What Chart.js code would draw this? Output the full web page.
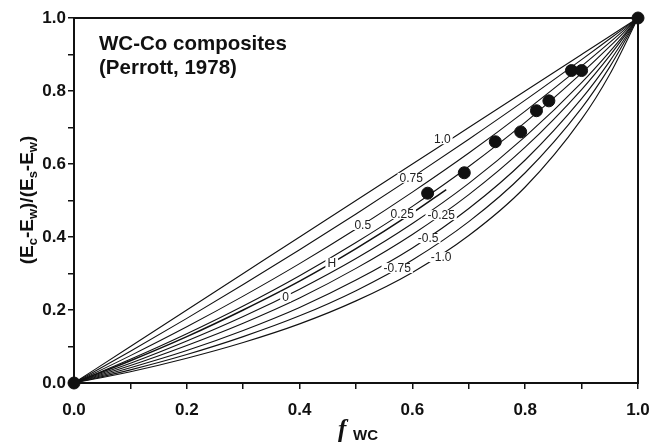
<!DOCTYPE html>
<html>
<head>
<meta charset="utf-8">
<script src="https://cdn.jsdelivr.net/npm/chart.js@4"></script>
<style>
  html, body { margin: 0; padding: 0; background: #fff; }
  #wrap { width: 662px; height: 445px; }
</style>
</head>
<body>
<div id="wrap"><canvas id="perrott"></canvas></div>
<script>
// shared x grid for the model curves (f_WC)
var xs = [0, 0.1, 0.2, 0.3, 0.4, 0.5, 0.6, 0.7, 0.8, 0.9, 0.95, 1];

// curves, one per parameter value
var c100  = [0, 0.100, 0.200, 0.300, 0.400, 0.500, 0.600, 0.700, 0.800, 0.900, 0.950, 1];
var c075  = [0, 0.087, 0.177, 0.270, 0.365, 0.463, 0.564, 0.668, 0.775, 0.886, 0.943, 1];
var c050  = [0, 0.075, 0.154, 0.238, 0.327, 0.422, 0.523, 0.630, 0.745, 0.868, 0.933, 1];
var c025  = [0, 0.065, 0.135, 0.211, 0.294, 0.385, 0.484, 0.593, 0.714, 0.849, 0.922, 1];
var c000  = [0, 0.054, 0.115, 0.182, 0.257, 0.341, 0.437, 0.547, 0.675, 0.823, 0.908, 1];
var cm025 = [0, 0.048, 0.103, 0.164, 0.233, 0.314, 0.407, 0.516, 0.646, 0.804, 0.897, 1];
var cm050 = [0, 0.042, 0.089, 0.144, 0.207, 0.282, 0.370, 0.478, 0.611, 0.779, 0.882, 1];
var cm075 = [0, 0.036, 0.078, 0.127, 0.184, 0.253, 0.337, 0.442, 0.576, 0.753, 0.866, 1];
var cm100 = [0, 0.031, 0.068, 0.111, 0.162, 0.225, 0.303, 0.404, 0.537, 0.723, 0.846, 1];

// H curve (stops short)
var hX = [0, 0.1, 0.2, 0.3, 0.4, 0.5, 0.6, 0.66];
var hY = [0, 0.061, 0.127, 0.200, 0.279, 0.368, 0.466, 0.530];

// WC-Co measurements
var wcX = [0, 0.627, 0.692, 0.747, 0.792, 0.820, 0.842, 0.882, 0.900, 1];
var wcY = [0, 0.520, 0.576, 0.661, 0.688, 0.746, 0.773, 0.856, 0.856, 1];

// in-line curve labels (anchor in data units)
var curveLabels = ['1.0', '0.75', '0.5', '0.25', 'H', '0', '-0.25', '-0.5', '-0.75', '-1.0'];
var labelX = [0.653, 0.598, 0.512, 0.582, 0.457, 0.375, 0.651, 0.628, 0.573, 0.651];
var labelY = [0.668, 0.562, 0.433, 0.463, 0.329, 0.236, 0.460, 0.397, 0.315, 0.345];

var tickLabels = ['0.0', '0.2', '0.4', '0.6', '0.8', '1.0'];

function pts(xa, ya) {
	return xa.map(function(x, i) { return {x: x, y: ya[i]}; });
}

function curve(ya, xa, w) {
	return {
		data: pts(xa || xs, ya),
		borderColor: '#111',
		borderWidth: w || 1.1,
		pointRadius: 0,
		fill: false,
		cubicInterpolationMode: 'monotone'
	};
}

function tickText(v) {
	var k = Math.round(v * 10);
	return k % 2 === 0 ? tickLabels[k / 2] : '';
}

var framePlugin = {
	id: 'frame',
	beforeDatasetsDraw: function(chart) {
		var a = chart.chartArea, ctx = chart.ctx;
		ctx.save();
		ctx.strokeStyle = '#111';
		ctx.lineWidth = 2;
		ctx.strokeRect(a.left, a.top, a.right - a.left, a.bottom - a.top);
		ctx.restore();
	},
	afterDatasetDraw: function(chart, args) {
		// labels go on top of the curves but under the dots
		if (args.index !== 1) return;
		var ctx = chart.ctx, sx = chart.scales.x, sy = chart.scales.y;
		ctx.save();
		ctx.font = '12px "Liberation Sans", Arial, sans-serif';
		ctx.textAlign = 'center';
		ctx.textBaseline = 'middle';
		for (var i = 0; i < curveLabels.length; i++) {
			var px = sx.getPixelForValue(labelX[i]);
			var py = sy.getPixelForValue(labelY[i]);
			var w = ctx.measureText(curveLabels[i]).width + 4;
			ctx.fillStyle = '#fff';
			ctx.fillRect(px - w / 2, py - 5, w, 10);
			ctx.fillStyle = '#222';
			ctx.fillText(curveLabels[i], px, py + 1);
		}
		ctx.restore();
	},
	afterDraw: function(chart) {
		var ctx = chart.ctx;
		ctx.save();
		ctx.fillStyle = '#111';
		ctx.textBaseline = 'alphabetic';
		ctx.textAlign = 'left';
		// note in the plot
		ctx.font = 'bold 20.5px "Liberation Sans", Arial, sans-serif';
		ctx.fillText('WC-Co composites', 99, 50);
		ctx.fillText('(Perrott, 1978)', 99, 74);

		// x title: f_WC
		ctx.font = 'italic bold 25px "Liberation Serif", "Times New Roman", serif';
		ctx.fillText('f', 338, 437);
		ctx.font = 'bold 15px "Liberation Sans", Arial, sans-serif';
		ctx.fillText('WC', 353, 440);

		// y title: (Ec-Ew)/(Es-Ew)
		var parts = [['(E', 0], ['c', 1], ['-E', 0], ['w', 1], [')/(E', 0], ['s', 1], ['-E', 0], ['w', 1], [')', 0]];
		var big = 'bold 19px "Liberation Sans", Arial, sans-serif';
		var small = 'bold 13px "Liberation Sans", Arial, sans-serif';
		var total = 0;
		parts.forEach(function(p) {
			ctx.font = p[1] ? small : big;
			total += ctx.measureText(p[0]).width;
		});
		ctx.translate(33, 200);
		ctx.rotate(-Math.PI / 2);
		var cx = -total / 2;
		parts.forEach(function(p) {
			ctx.font = p[1] ? small : big;
			ctx.fillText(p[0], cx, p[1] ? 4 : 0);
			cx += ctx.measureText(p[0]).width;
		});
		ctx.restore();
	}
};

var dotSet = {
	data: pts(wcX, wcY),
	showLine: false,
	pointRadius: 6,
	pointBackgroundColor: '#111',
	pointBorderColor: '#111',
	borderColor: '#111',
	clip: false
};

var axisFont = { family: '"Liberation Sans", Arial, sans-serif', size: 17, weight: 'bold' };

const ctx = document.getElementById('perrott').getContext('2d');
const chart = new Chart(ctx, {
	type: 'line',
	data: {
		datasets: [
			dotSet,
			curve(c100), curve(c075), curve(c050), curve(c025),
			curve(hY, hX, 1.5),
			curve(c000), curve(cm025), curve(cm050), curve(cm075), curve(cm100)
		]
	},
	plugins: [framePlugin],
	options: {
		responsive: true,
		maintainAspectRatio: false,
		animation: false,
		layout: { padding: { left: 0, right: 24, top: 18, bottom: 0 } },
		plugins: { legend: { display: false }, tooltip: { enabled: false } },
		scales: {
			x: {
				type: 'linear',
				min: 0,
				max: 1,
				afterFit: function(s) { s.height = 62; },
				border: { color: '#111', width: 2 },
				grid: { drawOnChartArea: false, color: '#111', lineWidth: 1.5, tickLength: 6 },
				ticks: {
					stepSize: 0.1,
					autoSkip: false,
					maxRotation: 0,
					padding: 11,
					color: '#111',
					font: axisFont,
					callback: tickText
				}
			},
			y: {
				type: 'linear',
				min: 0,
				max: 1,
				afterFit: function(s) { s.width = 74; },
				border: { color: '#111', width: 2 },
				grid: { drawOnChartArea: false, color: '#111', lineWidth: 1.5, tickLength: 6 },
				ticks: {
					stepSize: 0.1,
					autoSkip: false,
					padding: 2,
					color: '#111',
					font: axisFont,
					callback: tickText
				}
			}
		}
	}
});
</script>
</body>
</html>
